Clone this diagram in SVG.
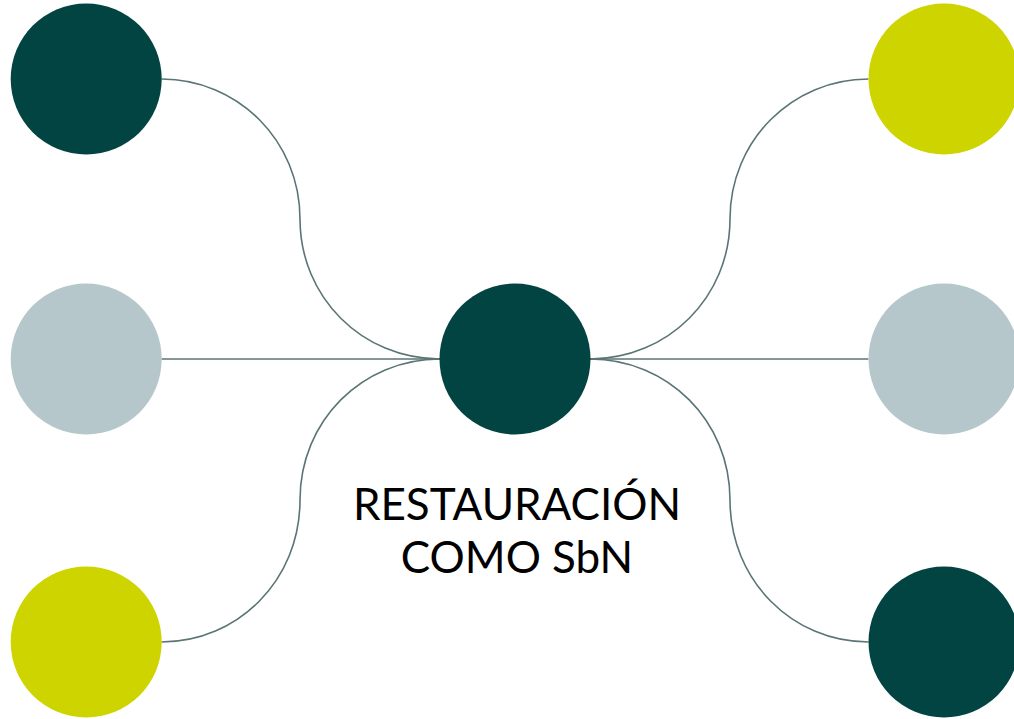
<svg xmlns="http://www.w3.org/2000/svg" width="1014" height="719" viewBox="0 0 1014 719">
<style>
.dark{fill:#024442}
.grey{fill:#b5c7cb}
.lime{fill:#cdd400}
.conn path{fill:none;stroke:#5b7475;stroke-width:1.6}
.label{font-family:Lato,"Liberation Sans",sans-serif;font-size:44px;fill:#000;text-anchor:middle}
</style>
<rect width="1014" height="719" fill="#fff"/>
<g id="connectors" class="conn">
<path d="M161.5,79 C238,79 300,141 300,219 C300,297 362,359 440,359"/>
<path d="M161.5,359 L440,359"/>
<path d="M161.5,642 C238,642 300,580 300,500 C300,421 362,359 440,359"/>
<path d="M868.5,79 C792,79 730,141 730,219 C730,297 668,359 590,359"/>
<path d="M868.5,359 L590,359"/>
<path d="M868.5,642 C792,642 730,580 730,500 C730,421 668,359 590,359"/>
</g>
<g id="node-tl"><circle class="dark" cx="86.2" cy="79" r="75.5"/></g>
<g id="node-ml"><circle class="grey" cx="86.2" cy="359" r="75.5"/></g>
<g id="node-bl"><circle class="lime" cx="86.2" cy="642" r="75.5"/></g>
<g id="node-center"><circle class="dark" cx="515" cy="359" r="75.5"/></g>
<g id="node-tr"><circle class="lime" cx="944" cy="79" r="75.5"/></g>
<g id="node-mr"><circle class="grey" cx="944" cy="359" r="75.5"/></g>
<g id="node-br"><circle class="dark" cx="944" cy="642" r="75.5"/></g>
<g id="title">
<text class="label" x="517" y="520">RESTAURACIÓN</text>
<text class="label" x="517" y="573">COMO SbN</text>
</g>
</svg>
